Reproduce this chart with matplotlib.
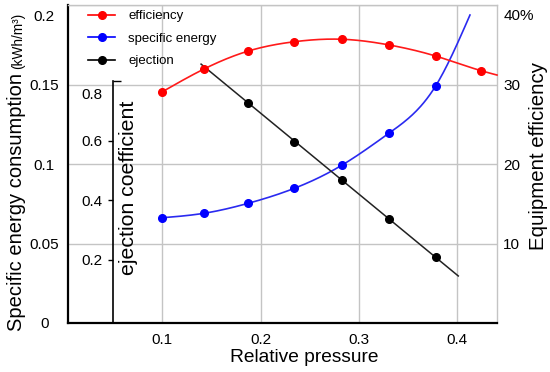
import numpy as np
import matplotlib
matplotlib.use("Agg")
import matplotlib.pyplot as plt
from matplotlib.ticker import FixedLocator, FixedFormatter
from matplotlib.transforms import ScaledTranslation

plt.rcParams['font.family'] = ['Liberation Sans', 'DejaVu Sans']

# ---------------- data ----------------
pressure = [0.1, 0.1424, 0.1875, 0.2343, 0.2831, 0.3309, 0.3781, 0.4242]
efficiency = [29.09, 31.95, 34.21, 35.38, 35.69, 34.97, 33.58, 31.74]       # %
efficiency_end = (0.4405, 31.19)          # curve runs on to the right edge

energy_x = [0.1, 0.1424, 0.1875, 0.2343, 0.2831, 0.3309, 0.3781]
energy = [0.0662, 0.0690, 0.0753, 0.0847, 0.0994, 0.1195, 0.1491]          # kWh/m3
energy_end = (0.413, 0.1937)

ejection_x = [0.1875, 0.2343, 0.2831, 0.3309, 0.3781]
ejection = [0.7287, 0.5977, 0.4689, 0.3368, 0.2091]
ejection_line_range = (0.1394, 0.4011)

x_ticks = [0.1, 0.2, 0.3, 0.4]
x_ticklabels = ['0.1', '0.2', '0.3', '0.4']
left_ticks = [0, 0.05, 0.1, 0.15, 0.2]
left_ticklabels = ['0', '0.05', '0.1', '0.15', '0.2']
right_ticks = [10, 20, 30, 40]
right_ticklabels = ['10', '20', '30', '40%']
ej_ticks = [0.2, 0.4, 0.6]
ej_ticklabels = ['0.2', '0.4', '0.6']

W, H = 550, 372


def natural_spline(x, y, xs):
    x = np.asarray(x, float); y = np.asarray(y, float)
    n = len(x)
    h = np.diff(x)
    A = np.zeros((n, n)); b = np.zeros(n)
    A[0, 0] = A[-1, -1] = 1
    for i in range(1, n - 1):
        A[i, i - 1] = h[i - 1]; A[i, i] = 2 * (h[i - 1] + h[i]); A[i, i + 1] = h[i]
        b[i] = 3 * ((y[i + 1] - y[i]) / h[i] - (y[i] - y[i - 1]) / h[i - 1])
    c = np.linalg.solve(A, b)
    out = np.empty_like(xs)
    for k, xv in enumerate(xs):
        i = min(max(np.searchsorted(x, xv) - 1, 0), n - 2)
        d = xv - x[i]
        bi = (y[i + 1] - y[i]) / h[i] - h[i] * (2 * c[i] + c[i + 1]) / 3
        di = (c[i + 1] - c[i]) / (3 * h[i])
        out[k] = y[i] + bi * d + c[i] * d ** 2 + di * d ** 3
    return out


fig = plt.figure(figsize=(W / 100, H / 100), dpi=100)
L, R, T, B = 68, 497, 5, 323
ax = fig.add_axes([L / W, 1 - B / H, (R - L) / W, (B - T) / H])
ax.set_xlim(0.004, 0.4405)
ax.set_ylim(0, 0.2)

grid_c = '#c4c4c4'
for s in ['top', 'right']:
    ax.spines[s].set_color(grid_c)
    ax.spines[s].set_linewidth(1.0)
for s in ['left', 'bottom']:
    ax.spines[s].set_color('black')
    ax.spines[s].set_linewidth(1.6)
ax.set_xticks(x_ticks)
ax.set_xticklabels(x_ticklabels)
ax.set_yticks(left_ticks)
ax.set_yticklabels(left_ticklabels)
ax.grid(True, color=grid_c, linewidth=1.0)
LP = 17
ax.tick_params(axis='both', length=0, labelsize=11)
ax.tick_params(axis='x', pad=7)
ax.tick_params(axis='y', pad=LP)
for lab in ax.get_yticklabels():
    lab.set_ha('center')
ax.get_yticklabels()[-1].set_transform(ax.get_yaxis_text1_transform(LP)[0] +
                                       ScaledTranslation(0, -10.5 / 100, fig.dpi_scale_trans))

# right axis: efficiency
ax2 = ax.twinx()
ax2.set_ylim(0, 40)
for s in ax2.spines.values():
    s.set_visible(False)
ax2.set_yticks(right_ticks)
ax2.set_yticklabels(right_ticklabels)
RP = 4.5
ax2.tick_params(axis='y', length=0, labelsize=11, pad=RP)
ax2.get_yticklabels()[-1].set_transform(ax2.get_yaxis_text2_transform(RP)[0] +
                                        ScaledTranslation(0, -10 / 100, fig.dpi_scale_trans))

# inner axis: ejection coefficient
ax3 = ax.twinx()
ax3.set_ylim(-0.0118, 1.0571)
for s in ['top', 'right', 'bottom']:
    ax3.spines[s].set_visible(False)
ax3.spines['left'].set_visible(True)
ax3.spines['left'].set_position(('data', 0.0495))
ax3.spines['left'].set_bounds(-0.0118, 0.8)
ax3.spines['left'].set_linewidth(1.2)
ax3.yaxis.tick_left()
ax3.yaxis.set_major_locator(FixedLocator(ej_ticks))
ax3.yaxis.set_major_formatter(FixedFormatter(ej_ticklabels))
ax3.yaxis.set_minor_locator(FixedLocator([0.8]))
ax3.yaxis.set_minor_formatter(FixedFormatter(['0.8']))
ax3.tick_params(axis='y', which='major', direction='out', length=3.5, width=1.0, labelsize=11, pad=3.5)
ax3.tick_params(axis='y', which='minor', direction='in', length=6, width=1.0, labelsize=11, pad=7)
for lab in ax3.yaxis.get_minorticklabels():
    lab.set_transform(ax3.get_yaxis_text1_transform(7)[0] +
                      ScaledTranslation(0, -12 / 100, fig.dpi_scale_trans))

ax.set_zorder(0)
ax3.set_zorder(1)
ax2.set_zorder(2)
ax2.patch.set_visible(False)
ax3.patch.set_visible(False)

ms = 5.5
# ejection (black)
coef = np.polyfit(ejection_x, ejection, 1)
xl = np.linspace(*ejection_line_range, 50)
ax3.plot(xl, np.polyval(coef, xl), color='#222222', lw=1.1)
ax3.plot(ejection_x, ejection, 'o', color='black', ms=ms)

# specific energy (blue)
ex = list(energy_x) + [energy_end[0]]
ey = list(energy) + [energy_end[1]]
xs = np.linspace(ex[0], ex[-1], 300)
ax.plot(xs, natural_spline(ex, ey, xs), color='#2a2af0', lw=1.2)
ax.plot(energy_x, energy, 'o', color='#0000ff', ms=ms)

# efficiency (red)
rx = list(pressure) + [efficiency_end[0]]
ry = list(efficiency) + [efficiency_end[1]]
xs = np.linspace(rx[0], rx[-1], 300)
ax2.plot(xs, natural_spline(rx, ry, xs), color='#ff1a1a', lw=1.2, clip_on=False)
ax2.plot(pressure, efficiency, 'o', color='#ff0000', ms=ms)

# legend
h1 = plt.Line2D([], [], color='#ff0000', marker='o', ms=ms, lw=1.2)
h2 = plt.Line2D([], [], color='#0000ff', marker='o', ms=ms, lw=1.2)
h3 = plt.Line2D([], [], color='black', marker='o', ms=ms, lw=1.2)
leg = ax2.legend([h1, h2, h3], ['efficiency', 'specific energy', 'ejection'],
                 loc='upper left', bbox_to_anchor=((88 - L) / (R - L), 1 - (10 - T) / (B - T)),
                 frameon=False, fontsize=9.5, handlelength=2.05, handletextpad=1.0,
                 labelspacing=0.78, borderpad=0, borderaxespad=0)


def px(x, y):
    return x / W, 1 - y / H


# axis labels
fig.text(*px(304, 357), 'Relative pressure', ha='center', va='center', fontsize=13.8)
fig.text(*px(538, 156), 'Equipment efficiency', ha='center', va='center',
         rotation=90, fontsize=14.7)
fig.text(*px(129, 188), 'ejection coefficient', ha='center', va='center',
         rotation=90, fontsize=15.3)
main = fig.text(*px(22, 331), 'Specific energy consumption', ha='left', va='baseline',
                rotation=90, rotation_mode='anchor', fontsize=14.5)
fig.canvas.draw()
bb = main.get_window_extent()
top_px = H - bb.y1
fig.text(*px(22, top_px - 4), '(kWh/m\u00b3)', ha='left', va='baseline',
         rotation=90, rotation_mode='anchor', fontsize=9.8)

fig.savefig('out.png', dpi=100)
